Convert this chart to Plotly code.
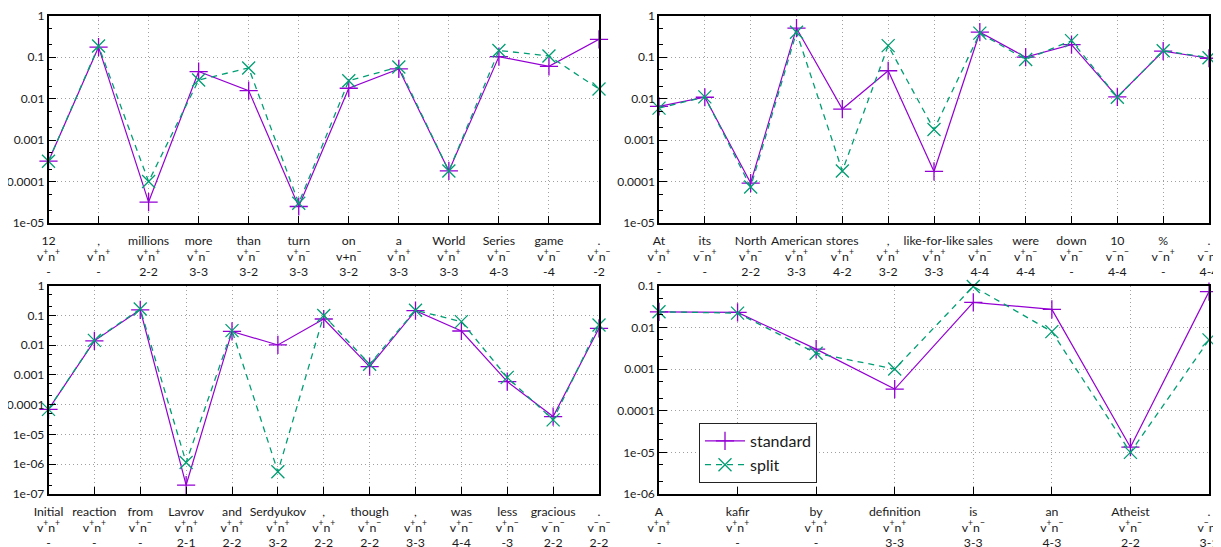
import plotly.graph_objects as go

# ---------------- data ----------------
p1_words = ["12", ",", "millions", "more", "than", "turn", "on", "a", "World", "Series", "game", "."]
p1_types = ["v^+n^+", "v^+n^+", "v^+n^+", "v^+n^-", "v^+n^-", "v^+n^-", "v+n^-", "v^+n^+", "v^+n^+", "v^+n^-", "v^+n^-", "v^+n^-"]
p1_spans = ["-", "-", "2-2", "3-3", "3-2", "3-3", "3-2", "3-3", "3-3", "4-3", "-4", "-2"]
p1_standard = [3.1e-4, 0.175, 3.2e-5, 0.045, 0.0156, 2.5e-5, 0.0178, 0.052, 1.8e-4, 0.103, 0.06, 0.27]
p1_split = [3.1e-4, 0.185, 1.0e-4, 0.028, 0.055, 3.0e-5, 0.027, 0.058, 1.8e-4, 0.145, 0.107, 0.017]

p2_words = ["At", "its", "North", "American", "stores", ",", "like-for-like", "sales", "were", "down", "10", "%", "."]
p2_types = ["v^+n^+", "v^-n^+", "v^+n^-", "v^+n^+", "v^+n^+", "v^+n^+", "v^+n^+", "v^+n^-", "v^+n^-", "v^+n^-", "v^-n^-", "v^-n^+", "v^-n^-"]
p2_spans = ["-", "-", "2-2", "3-3", "4-2", "3-2", "3-3", "4-4", "4-4", "-", "4-4", "-", "4-4"]
p2_standard = [0.0065, 0.0108, 9.2e-5, 0.50, 0.0056, 0.047, 1.75e-4, 0.40, 0.100, 0.20, 0.011, 0.14, 0.094]
p2_split = [0.0059, 0.0110, 7.4e-5, 0.40, 1.8e-4, 0.19, 0.0018, 0.38, 0.088, 0.25, 0.0108, 0.143, 0.097]

p3_words = ["Initial", "reaction", "from", "Lavrov", "and", "Serdyukov", ",", "though", ",", "was", "less", "gracious", "."]
p3_types = ["v^+n^+", "v^+n^+", "v^+n^-", "v^+n^+", "v^+n^+", "v^+n^+", "v^+n^+", "v^+n^-", "v^+n^+", "v^+n^-", "v^+n^-", "v^-n^-", "v^-n^-"]
p3_spans = ["-", "-", "-", "2-1", "2-2", "3-2", "2-2", "2-2", "3-3", "4-4", "-3", "2-2", "2-2"]
p3_standard = [7.0e-5, 0.0140, 0.155, 2.0e-7, 0.029, 0.0102, 0.076, 0.0019, 0.145, 0.030, 6.0e-4, 4.0e-5, 0.037]
p3_split = [7.0e-5, 0.0145, 0.165, 1.15e-6, 0.031, 5.6e-7, 0.100, 0.0023, 0.150, 0.062, 8.3e-4, 3.1e-5, 0.048]

p4_words = ["A", "kafir", "by", "definition", "is", "an", "Atheist", "."]
p4_types = ["v^+n^+", "v^+n^+", "v^+n^+", "v^+n^+", "v^+n^-", "v^+n^-", "v^+n^-", "v^-n^+"]
p4_spans = ["-", "-", "-", "3-3", "3-3", "4-3", "2-2", "3-1"]
p4_standard = [0.0236, 0.0228, 0.0030, 3.3e-4, 0.040, 0.027, 1.33e-5, 0.072]
p4_split = [0.0236, 0.0220, 0.0024, 1.0e-3, 0.096, 0.0079, 1.0e-5, 0.005]

y_tick_vals = [1e-7, 1e-6, 1e-5, 1e-4, 1e-3, 1e-2, 1e-1, 1]
y_tick_text = ["1e-07", "1e-06", "1e-05", "0.0001", "0.001", "0.01", "0.1", "1"]

series_names = ["standard", "split"]

# ---------------- styling ----------------
PURPLE = "#9400d3"
GREEN = "#009e73"
FONT = "Lato"
OFF = 8  # default page body margin
W, H = 1221 - OFF, 547 - OFF

panels = [
    dict(words=p1_words, types=p1_types, spans=p1_spans, std=p1_standard, spl=p1_split,
         yr=(-5, 0), px=(48.5, 599), py=(15.7, 223)),
    dict(words=p2_words, types=p2_types, spans=p2_spans, std=p2_standard, spl=p2_split,
         yr=(-5, 0), px=(659, 1209), py=(15.7, 223)),
    dict(words=p3_words, types=p3_types, spans=p3_spans, std=p3_standard, spl=p3_split,
         yr=(-7, 0), px=(48.5, 599), py=(285.7, 494)),
    dict(words=p4_words, types=p4_types, spans=p4_spans, std=p4_standard, spl=p4_split,
         yr=(-6, -1), px=(659, 1209), py=(285.7, 494)),
]


def fx(x):
    return (x - OFF) / W


def fy(y):
    return 1 - (y - OFF) / H


def fmt_type(s):
    return s.replace("^+", "<sup>+</sup>").replace("^-", "<sup>−</sup>")


fig = go.Figure()
layout = {}
for i, p in enumerate(panels, start=1):
    xs = list(range(len(p["words"])))
    xa = "x" if i == 1 else f"x{i}"
    ya = "y" if i == 1 else f"y{i}"
    fig.add_trace(go.Scatter(
        x=xs, y=p["std"], xaxis=xa, yaxis=ya, mode="lines+markers",
        name=series_names[0], showlegend=(i == 4), cliponaxis=False,
        line=dict(color=PURPLE, width=1.2),
        marker=dict(symbol="cross-thin-open", size=13, line=dict(color=PURPLE, width=1.3)),
    ))
    fig.add_trace(go.Scatter(
        x=xs, y=p["spl"], xaxis=xa, yaxis=ya, mode="lines+markers",
        name=series_names[1], showlegend=(i == 4), cliponaxis=False,
        line=dict(color=GREEN, width=1.3, dash="6px,5px"),
        marker=dict(symbol="x-thin-open", size=13, line=dict(color=GREEN, width=1.3)),
    ))
    ticktext = [f"{w}<br>{fmt_type(t)}<br>{s}" for w, t, s in zip(p["words"], p["types"], p["spans"])]
    xkey = "xaxis" if i == 1 else f"xaxis{i}"
    ykey = "yaxis" if i == 1 else f"yaxis{i}"
    layout[xkey] = dict(
        domain=[fx(p["px"][0]), fx(p["px"][1])], anchor=ya, automargin=False,
        range=[0, len(xs) - 1], tickvals=xs, ticktext=ticktext, tickangle=0,
        ticks="inside", ticklen=7, tickcolor="black", tickwidth=1,
        showline=True, linecolor="black", linewidth=1.5, mirror=True,
        showgrid=True, gridcolor="#a0a0a0", griddash="1px,3px", gridwidth=1,
        zeroline=False, tickfont=dict(family=FONT, size=12.3, color="#1a1a1a"),
        ticklabelstandoff=5, ticklabeloverflow="allow",
    )
    lo, hi = p["yr"]
    tv = [v for v in y_tick_vals if 10 ** lo <= v * 1.0001 and v <= 10 ** hi * 1.0001]
    tt = [y_tick_text[y_tick_vals.index(v)] for v in tv]
    layout[ykey] = dict(
        domain=[fy(p["py"][1]), fy(p["py"][0])], anchor=xa, automargin=False,
        type="log", range=[lo, hi], tickvals=tv, ticktext=tt,
        ticks="inside", ticklen=8, tickcolor="black", tickwidth=1,
        minor=dict(ticks="inside", ticklen=4, tickcolor="black", dtick="D2", showgrid=False),
        showline=True, linecolor="black", linewidth=1.5, mirror=True,
        showgrid=True, gridcolor="#a0a0a0", griddash="1px,3px", gridwidth=1,
        zeroline=False, tickfont=dict(family=FONT, size=12, color="#1a1a1a"),
        ticklabeloverflow="allow",
    )

fig.update_layout(
    width=W, height=H, margin=dict(l=0, r=0, t=0, b=0, autoexpand=False),
    paper_bgcolor="white", plot_bgcolor="white",
    font=dict(family=FONT, size=13, color="#1a1a1a"),
    legend=dict(x=fx(699), y=fy(423), xanchor="left", yanchor="top",
                bordercolor="#222", borderwidth=1, bgcolor="white",
                font=dict(family=FONT, size=16, color="#1a1a1a"),
                tracegroupgap=0, itemwidth=40),
    **layout,
)

fig.write_html("out.html")
